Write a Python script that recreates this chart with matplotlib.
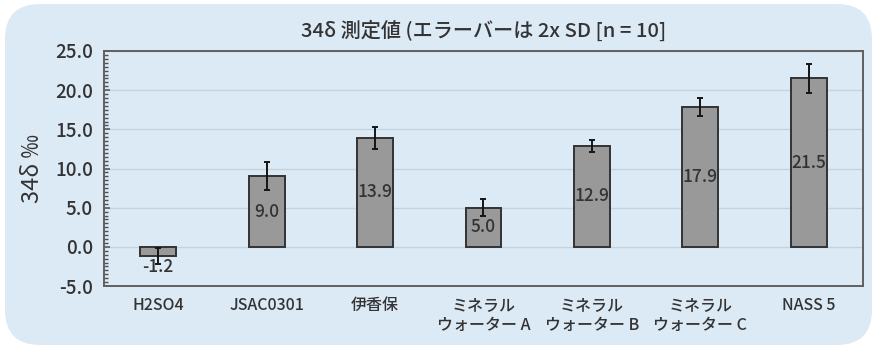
import matplotlib
matplotlib.use("Agg")
import matplotlib.pyplot as plt
from matplotlib.patches import FancyBboxPatch
from matplotlib.ticker import MultipleLocator
import numpy as np

plt.rcParams['font.family'] = ['Noto Sans CJK JP', 'DejaVu Sans']
plt.rcParams['font.weight'] = 'medium'

categories = ["H2SO4", "JSAC0301", "伊香保", "ミネラル\nウォーター A",
              "ミネラル\nウォーター B", "ミネラル\nウォーター C", "NASS 5"]
values = [-1.2, 9.0, 13.9, 5.0, 12.9, 17.9, 21.5]
errors = [1.0, 1.8, 1.4, 1.1, 0.8, 1.15, 1.9]
yticks = [-5.0, 0.0, 5.0, 10.0, 15.0, 20.0, 25.0]

W, H = 877, 349
panel_c = "#dceaf6"
text_c = "#333333"

fig = plt.figure(figsize=(W / 100, H / 100), dpi=100)
fig.patch.set_facecolor("white")

panel = FancyBboxPatch((5 / W, 4 / H), 867 / W, 341 / H,
                       boxstyle="round,pad=0,rounding_size=0.04",
                       transform=fig.transFigure, facecolor=panel_c,
                       edgecolor="none", zorder=-10,
                       mutation_aspect=W / H)
fig.patches.append(panel)

ax = fig.add_axes([104 / W, 1 - 286 / H, (863 - 104) / W, (286 - 51) / H])
ax.set_zorder(1)
ax.set_facecolor(panel_c)

x = np.arange(len(categories))
ax.bar(x, values, width=0.33, color="#999999", edgecolor="#333333",
       linewidth=1.4, zorder=3)
ax.errorbar(x, values, yerr=errors, fmt="none", ecolor="#151515",
            elinewidth=1.4, capsize=2.5, capthick=1.4, zorder=4)

for xi, v in zip(x, values):
    if v < 0:
        ax.text(xi, v - 0.2, f"{v:.1f}", ha="center", va="top",
                fontsize=12.5, color=text_c, zorder=5)
    else:
        ax.text(xi, v / 2, f"{v:.1f}", ha="center", va="center",
                fontsize=12.5, color=text_c, zorder=5)

ax.set_xlim(-0.5, len(categories) - 0.5)
ax.set_ylim(-5, 25)
ax.set_yticks(yticks)
ax.set_yticklabels([f"{t:.1f}" for t in yticks], fontsize=13.5, color=text_c)
ax.yaxis.set_minor_locator(MultipleLocator(0.5))
ax.tick_params(axis="y", which="major", direction="in", length=4,
               width=1.1, color="#505050", pad=8)
ax.tick_params(axis="y", which="minor", direction="in", length=3,
               width=1.0, color="#505050")
ax.set_xticks(x)
ax.set_xticklabels(categories, fontsize=11.5, color=text_c, linespacing=1.2)
ax.tick_params(axis="x", length=0, pad=8)

ax.grid(axis="y", which="major", color="#c5d3df", linewidth=1, zorder=1)
for s in ax.spines.values():
    s.set_color("#606060")
    s.set_linewidth(1.4)

ax.set_ylabel("34δ ‰", fontsize=17, color=text_c, labelpad=8)
fig.text(484 / W, 1 - 30 / H, "34δ 測定値 (エラーバーは 2x SD [n = 10]",
         ha="center", va="center", fontsize=14.5, color=text_c)

fig.savefig("out.png", dpi=100, facecolor=fig.get_facecolor())
